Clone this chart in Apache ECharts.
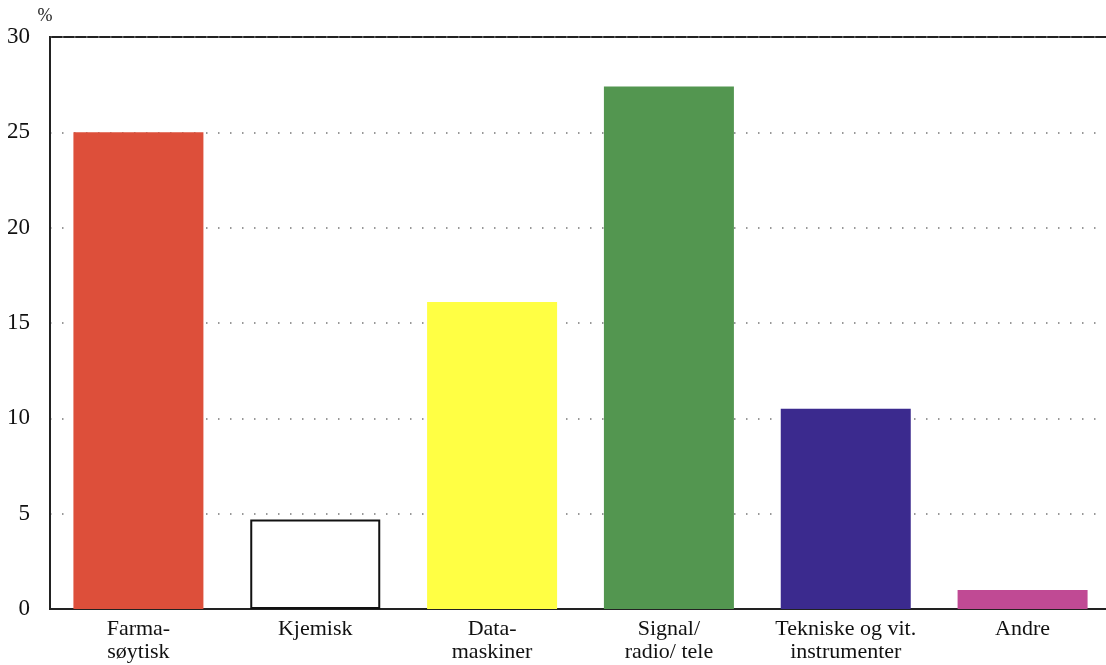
<!DOCTYPE html>
<html>
<head>
<meta charset="utf-8">
<script src="https://cdn.jsdelivr.net/npm/echarts@6/dist/echarts.min.js"></script>
<style>
  html, body { margin: 0; padding: 0; background: #fff; }
  #chart { width: 1106px; height: 665px; }
</style>
</head>
<body>
<div id="chart"></div>
<script>
const categories = ["Farma-\nsøytisk", "Kjemisk", "Data-\nmaskiner", "Signal/\nradio/ tele", "Tekniske og vit.\ninstrumenter", "Andre"];
const shares = [25.0, 4.7, 16.1, 27.4, 10.5, 1.0];
const barColors = ["#dd4f3a", "#ffffff", "#ffff44", "#539650", "#3b2a8e", "#c04a94"];
const yTicks = [0, 5, 10, 15, 20, 25, 30];

const serif = "'Liberation Serif', 'DejaVu Serif', serif";
const chart = echarts.init(document.getElementById("chart"));

const option = {
    animation: false,
    backgroundColor: "#fff",
    grid: {
        left: 50,
        right: -5,
        top: 37,
        bottom: 56,
        outerBoundsMode: "none",
        containLabel: false,
        show: true,
        borderColor: "#222",
        borderWidth: 2,
    },
    xAxis: {
        type: "category",
        data: categories,
        boundaryGap: true,
        axisLine: { show: true, lineStyle: { color: "#222", width: 2 } },
        axisTick: { show: false },
        axisLabel: {
            color: "#111",
            fontFamily: serif,
            fontSize: 22,
            lineHeight: 23,
            margin: 9,
            interval: 0,
        },
    },
    yAxis: {
        type: "value",
        min: yTicks[0],
        max: yTicks[yTicks.length - 1],
        interval: 5,
        name: "%",
        nameLocation: "end",
        nameGap: 12,
        nameTextStyle: { color: "#222", fontFamily: serif, fontSize: 18, align: "center", padding: [0, 10, 0, 0] },
        axisLine: { show: true, lineStyle: { color: "#222", width: 2 } },
        axisTick: { show: false },
        axisLabel: { color: "#111", fontFamily: serif, fontSize: 23, margin: 20 },
        splitLine: {
            show: true,
            lineStyle: { color: "#777", width: 1.5, type: [1.5, 10.5] },
        },
    },
    series: [
        {
            type: "bar",
            data: shares.map((v, i) => ({
                value: v,
                itemStyle: {
                    color: barColors[i],
                    borderColor: i === 1 ? "#111" : barColors[i],
                    borderWidth: i === 1 ? 2 : 0,
                },
            })),
            barWidth: 130,
            z: 3,
        },
    ],
};

chart.setOption(option);
</script>
</body>
</html>
